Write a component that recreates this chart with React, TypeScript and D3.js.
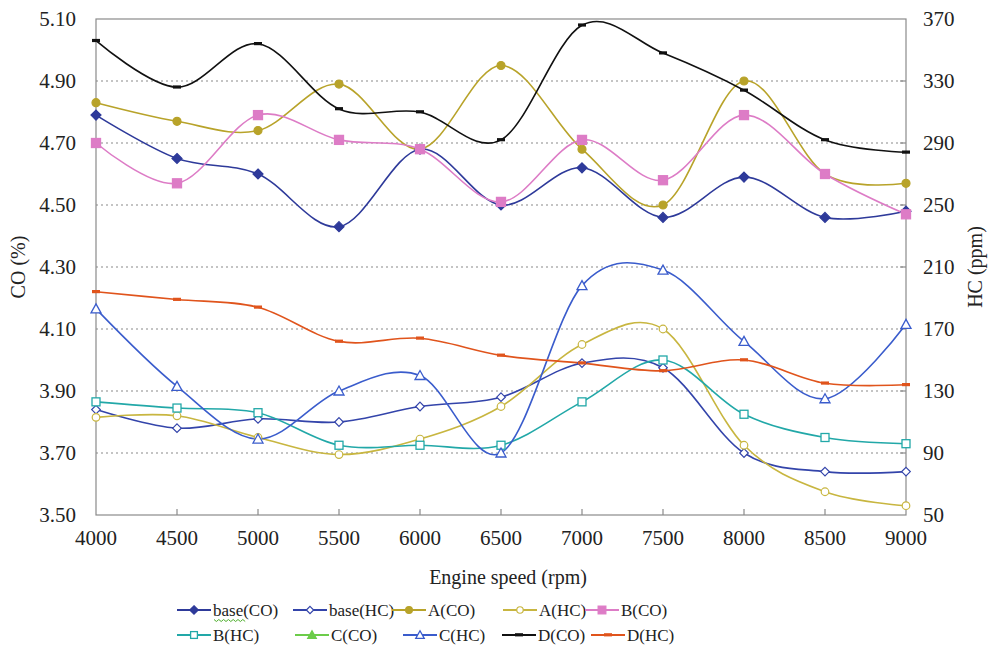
import React, { useEffect, useRef } from "react";
import * as d3 from "d3";

const speeds = [4000, 4500, 5000, 5500, 6000, 6500, 7000, 7500, 8000, 8500, 9000];
const coTicks = [3.5, 3.7, 3.9, 4.1, 4.3, 4.5, 4.7, 4.9, 5.1];
const hcTicks = [50, 90, 130, 170, 210, 250, 290, 330, 370];

// CO (%) values, left axis
const baseCO = [4.79, 4.65, 4.6, 4.43, 4.68, 4.5, 4.62, 4.46, 4.59, 4.46, 4.48];
const aCO = [4.83, 4.77, 4.74, 4.89, 4.68, 4.95, 4.68, 4.5, 4.9, 4.6, 4.57];
const bCO = [4.7, 4.57, 4.79, 4.71, 4.68, 4.51, 4.71, 4.58, 4.79, 4.6, 4.47];
const cCO: number[] = [];
const dCO = [5.03, 4.88, 5.02, 4.81, 4.8, 4.71, 5.08, 4.99, 4.87, 4.71, 4.67];

// HC (ppm) values, right axis
const baseHC = [118, 106, 112, 110, 120, 126, 148, 145, 90, 78, 78];
const aHC = [113, 114, 100, 89, 99, 120, 160, 170, 95, 65, 56];
const bHC = [123, 119, 116, 95, 95, 95, 123, 150, 115, 100, 96];
const cHC = [183, 133, 99, 130, 140, 90, 198, 208, 162, 125, 173];
const dHC = [194, 189, 184, 162, 164, 153, 148, 143, 150, 135, 134];

const series = [
  { name: "base(CO)", values: baseCO, axis: "co", color: "#2e3a9a", marker: "diamond", filled: true },
  { name: "base(HC)", values: baseHC, axis: "hc", color: "#3344aa", marker: "diamond", filled: false },
  { name: "A(CO)", values: aCO, axis: "co", color: "#b8a32a", marker: "circle", filled: true },
  { name: "A(HC)", values: aHC, axis: "hc", color: "#c8b640", marker: "circle", filled: false },
  { name: "B(CO)", values: bCO, axis: "co", color: "#dd7cc6", marker: "square", filled: true },
  { name: "B(HC)", values: bHC, axis: "hc", color: "#22a8a8", marker: "square", filled: false },
  { name: "C(CO)", values: cCO, axis: "co", color: "#6ccc4a", marker: "triangle", filled: true },
  { name: "C(HC)", values: cHC, axis: "hc", color: "#3a5ccc", marker: "triangle", filled: false },
  { name: "D(CO)", values: dCO, axis: "co", color: "#111111", marker: "dash", filled: true },
  { name: "D(HC)", values: dHC, axis: "hc", color: "#e0541c", marker: "dash", filled: true },
];

const FONT = "Liberation Serif, Times New Roman, DejaVu Serif, serif";

function drawMarker(g: any, type: string, x: number, y: number, color: string, filled: boolean, big = false) {
  const s = big ? 1 : 0.85;
  const fill = filled ? color : "#fff";
  if (type === "diamond") {
    const r = (filled ? 5 : 4.3) * s;
    g.append("path").attr("d", `M${x},${y - r}L${x + r},${y}L${x},${y + r}L${x - r},${y}Z`)
      .attr("fill", fill).attr("stroke", color).attr("stroke-width", 1.2);
  } else if (type === "circle") {
    g.append("circle").attr("cx", x).attr("cy", y).attr("r", (filled ? 4 : 3.8) * s)
      .attr("fill", fill).attr("stroke", color).attr("stroke-width", 1.2);
  } else if (type === "square") {
    const r = (filled ? 4.5 : 4) * s;
    g.append("rect").attr("x", x - r).attr("y", y - r).attr("width", 2 * r).attr("height", 2 * r)
      .attr("fill", fill).attr("stroke", color).attr("stroke-width", 1.3);
  } else if (type === "triangle") {
    const r = 5 * s;
    g.append("path").attr("d", `M${x},${y - r}L${x + r},${y + r * 0.8}L${x - r},${y + r * 0.8}Z`)
      .attr("fill", fill).attr("stroke", color).attr("stroke-width", 1.3);
  } else if (type === "dash") {
    g.append("rect").attr("x", x - 4).attr("y", y - 1.8).attr("width", 8).attr("height", 3.2).attr("fill", color);
  }
}

export default function App() {
  const ref = useRef<SVGSVGElement>(null);

  useEffect(() => {
    const svg = d3.select(ref.current);
    svg.selectAll("*").remove();

    const margin = { left: 96, right: 85, top: 19, bottom: 136 };
    const W = 991, H = 651;
    const x = d3.scaleLinear().domain([4000, 9000]).range([margin.left, W - margin.right]);
    const yCO = d3.scaleLinear().domain([3.5, 5.1]).range([H - margin.bottom, margin.top]);
    const yHC = d3.scaleLinear().domain([50, 370]).range([H - margin.bottom, margin.top]);
    const x0 = margin.left, x1 = W - margin.right, y0 = H - margin.bottom, y1 = margin.top;

    svg.append("rect").attr("width", W).attr("height", H).attr("fill", "#fff");

    // dotted gridlines
    svg.append("g").selectAll("line")
      .data(coTicks.slice(1, -1))
      .join("line")
      .attr("x1", x0).attr("x2", x1)
      .attr("y1", d => yCO(d)).attr("y2", d => yCO(d))
      .attr("stroke", "#8a8a8a").attr("stroke-width", 1.2).attr("stroke-dasharray", "2,3");

    // frame
    svg.append("rect").attr("x", x0).attr("y", y1).attr("width", x1 - x0).attr("height", y0 - y1)
      .attr("fill", "none").attr("stroke", "#8a8a8a").attr("stroke-width", 1.2);

    // x ticks (inward)
    svg.append("g").selectAll("line").data(speeds.slice(1, -1)).join("line")
      .attr("x1", d => x(d)).attr("x2", d => x(d)).attr("y1", y0).attr("y2", y0 - 6)
      .attr("stroke", "#8a8a8a").attr("stroke-width", 1.2);
    // right ticks (inward)
    svg.append("g").selectAll("line").data(hcTicks.slice(1, -1)).join("line")
      .attr("x1", x1).attr("x2", x1 - 6).attr("y1", d => yHC(d)).attr("y2", d => yHC(d))
      .attr("stroke", "#8a8a8a").attr("stroke-width", 1.2);

    const txt = svg.append("g").style("font-family", FONT).attr("fill", "#222");
    txt.selectAll(".xl").data(speeds).join("text").attr("class", "xl")
      .attr("x", d => x(d)).attr("y", y0 + 30).attr("text-anchor", "middle").attr("font-size", 21)
      .text(d => d);
    txt.selectAll(".yl").data(coTicks).join("text").attr("class", "yl")
      .attr("x", 76).attr("y", d => yCO(d) + 7).attr("text-anchor", "end").attr("font-size", 21)
      .text(d => d3.format(".2f")(d));
    txt.selectAll(".yr").data(hcTicks).join("text").attr("class", "yr")
      .attr("x", 923).attr("y", d => yHC(d) + 7).attr("text-anchor", "start").attr("font-size", 21)
      .text(d => d);

    txt.append("text").attr("x", 508).attr("y", 584).attr("text-anchor", "middle").attr("font-size", 20)
      .text("Engine speed (rpm)");
    txt.append("text").attr("transform", "translate(25,267) rotate(-90)").attr("text-anchor", "middle")
      .attr("font-size", 20).text("CO (%)");
    txt.append("text").attr("transform", "translate(982,267) rotate(-90)").attr("text-anchor", "middle")
      .attr("font-size", 20).text("HC (ppm)");

    const line = (ys: any) => d3.line<number>()
      .x((_, i) => x(speeds[i]))
      .y(d => ys(d))
      .curve(d3.curveCardinal.tension(0));

    const plot = svg.append("g");
    series.forEach(s => {
      if (!s.values.length) return;
      const ys = s.axis === "co" ? yCO : yHC;
      plot.append("path").attr("d", line(ys)(s.values) as string)
        .attr("fill", "none").attr("stroke", s.color).attr("stroke-width", 1.6);
    });
    series.forEach(s => {
      const ys = s.axis === "co" ? yCO : yHC;
      s.values.forEach((v, i) => drawMarker(plot, s.marker, x(speeds[i]), ys(v), s.color, s.filled, true));
    });

    // legend
    const legX = [[177, 293, 392, 503, 585], [177, 295, 403, 502, 591]];
    const legY = [610, 635];
    const leg = svg.append("g").style("font-family", FONT).attr("font-size", 17).attr("fill", "#222");
    series.forEach((s, i) => {
      const row = Math.floor(i / 5), col = i % 5;
      const lx = legX[row][col], ly = legY[row];
      leg.append("line").attr("x1", lx).attr("x2", lx + 34).attr("y1", ly).attr("y2", ly)
        .attr("stroke", s.color).attr("stroke-width", 2);
      drawMarker(leg, s.marker, lx + 17, ly, s.color, s.filled, false);
      leg.append("text").attr("x", lx + 36).attr("y", ly + 6).text(s.name);
    });
    // spell-check squiggle under "base"
    const sq = d3.range(0, 14).map(k => [214 + k * 2.4, 620 + (k % 2 ? 1.5 : -0.5)] as [number, number]);
    leg.append("path").attr("d", d3.line()(sq) as string).attr("fill", "none")
      .attr("stroke", "#4caf2a").attr("stroke-width", 1);
  }, []);

  return (
    <svg ref={ref} width={991} height={651}
      style={{ position: "absolute", left: 0, top: 0, display: "block" }} />
  );
}
